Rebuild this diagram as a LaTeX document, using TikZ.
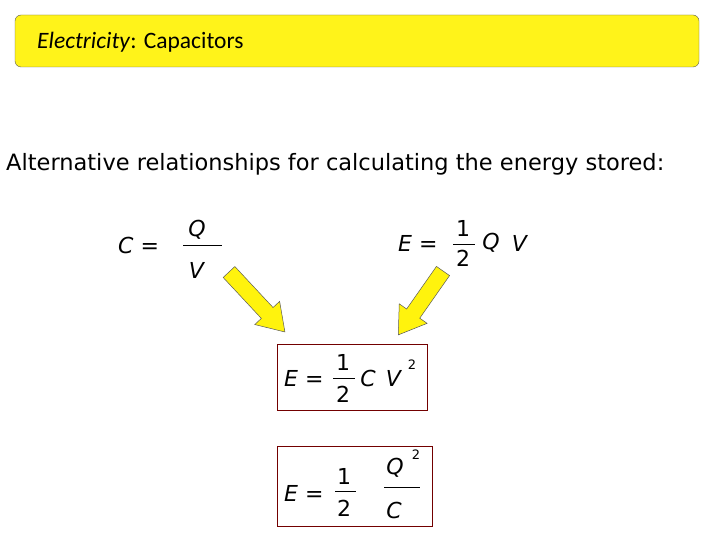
\documentclass[tikz,border=0pt]{standalone}
\usepackage{fontspec}
\setmainfont{DejaVu Sans}
\newfontfamily\titlefont{Carlito}
\begin{document}
\begin{tikzpicture}[x=1pt,y=-1pt,
  eq/.style={inner sep=0pt,font=\fontsize{22}{22}\selectfont},
  sup/.style={inner sep=0pt,font=\fontsize{13}{13}\selectfont},
  fracbar/.style={line width=0.8pt},
  box/.style={draw=red!45!black,line width=0.8pt},
  barrow/.style={draw=gray!70!black,fill=yellow!95!white,line width=0.5pt,line join=miter}]
\useasboundingbox (0,0) rectangle (720,540);
\node[draw=gray!70!black,fill=yellow!90!white,rounded corners=6pt,minimum width=684pt,minimum height=52pt,inner sep=0pt] (title) at (357,41) {};
\node[anchor=west,inner sep=0pt,font=\titlefont\fontsize{23.5}{24}\selectfont] (tt) at (37,42) {\textit{Electricity}: Capacitors};
\node[anchor=west,inner sep=0pt,font=\fontsize{22.5}{23}\selectfont] (intro) at (6,164) {Alternative relationships for calculating the energy stored:};
% C = Q/V
\node[eq,anchor=west] (c1) at (118,245) {\textit{C} =};
\node[eq] (q1) at (197,230) {\textit{Q}};
\node[eq] (v1) at (197,270) {\textit{V}};
\coordinate (b1a) at (183,245); \coordinate (b1b) at (222,245);
\draw[fracbar] (b1a) -- (b1b);
% E = 1/2 QV
\node[eq,anchor=west] (e2) at (398,243) {\textit{E} =};
\node[eq] (n2) at (463,228) {1};
\node[eq] (d2) at (463,258) {2};
\coordinate (b2a) at (453,244); \coordinate (b2b) at (475,244);
\draw[fracbar] (b2a) -- (b2b);
\node[eq] (q2) at (491,243) {\textit{Q}};
\node[eq] (v2) at (520,243) {\textit{V}};
% arrows (tail at origin, pointing along +x)
\begin{scope}[shift={(229,272)},rotate=-47]
\draw[barrow] (0,-8) -- (56,-8) -- (56,-17) -- (82,0) -- (56,17) -- (56,8) -- (0,8) -- cycle;
\end{scope}
\begin{scope}[shift={(443,271)},rotate=-125]
\draw[barrow] (0,-8) -- (52,-8) -- (52,-17) -- (78,0) -- (52,17) -- (52,8) -- (0,8) -- cycle;
\end{scope}
% box 1
\node[box,minimum width=150pt,minimum height=66pt,inner sep=0pt] (bx1) at (352,377) {};
\node[eq,anchor=west] (e3) at (284,378) {\textit{E} =};
\node[eq] (n3) at (343,362) {1};
\node[eq] (d3) at (343,394) {2};
\coordinate (b3a) at (333,378); \coordinate (b3b) at (355,378);
\draw[fracbar] (b3a) -- (b3b);
\node[eq] (c3) at (368,378) {\textit{C}};
\node[eq] (v3) at (394,378) {\textit{V}};
\node[sup] (s3) at (412,365) {2};
% box 2
\node[box,minimum width=155pt,minimum height=80pt,inner sep=0pt] (bx2) at (354.5,486) {};
\node[eq,anchor=west] (e4) at (284,493) {\textit{E} =};
\node[eq] (n4) at (344,476) {1};
\node[eq] (d4) at (344,508) {2};
\coordinate (b4a) at (335,491); \coordinate (b4b) at (356,491);
\draw[fracbar] (b4a) -- (b4b);
\node[eq] (q4) at (395,468) {\textit{Q}};
\node[sup] (s4) at (416,455) {2};
\coordinate (b5a) at (384,487); \coordinate (b5b) at (420,487);
\draw[fracbar] (b5a) -- (b5b);
\node[eq] (c4) at (394,510) {\textit{C}};
\end{tikzpicture}
\end{document}
